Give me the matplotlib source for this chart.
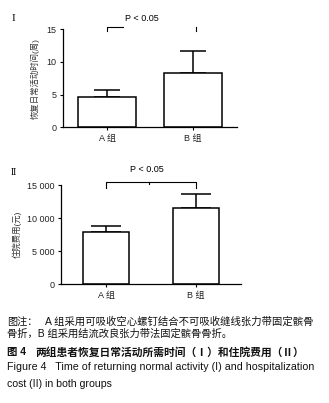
import matplotlib
matplotlib.use("Agg")
import matplotlib.pyplot as plt
import numpy as np

plt.rcParams['font.family'] = ['Liberation Sans', 'Noto Sans CJK SC', 'DejaVu Sans']

# ---- data ----
groups = ["A 组", "B 组"]
weeks_mean = [4.7, 8.3]
weeks_sd = [1.0, 3.4]
cost_mean = [7900, 11500]
cost_sd = [1000, 2200]
weeks_ticks = [0, 5, 10, 15]
weeks_ticklabels = ["0", "5", "10", "15"]
cost_ticks = [0, 5000, 10000, 15000]
cost_ticklabels = ["0", "5 000", "10 000", "15 000"]
p_text = "P < 0.05"

W, H = 329, 403
fig = plt.figure(figsize=(W / 100, H / 100), dpi=100)

def px_axes(left, right, top, bottom):
    return fig.add_axes([left / W, 1 - bottom / H, (right - left) / W, (bottom - top) / H])

def style(ax, ticks, ticklabels, ymax, bar_w, capsize, means, sds, xlim):
    x = np.arange(len(groups))
    ax.bar(x, means, width=bar_w, color="white", edgecolor="black", linewidth=1.1, zorder=2)
    ax.errorbar(x, means, yerr=[np.zeros(len(sds)), sds], fmt="none", ecolor="black",
                elinewidth=1.1, capsize=capsize, capthick=1.1, zorder=1)
    ax.set_xlim(*xlim)
    ax.set_ylim(0, ymax)
    ax.set_yticks(ticks)
    ax.set_yticklabels(ticklabels, fontsize=6.5, color="#222")
    ax.set_xticks(x)
    ax.set_xticklabels(groups, fontsize=6.5, color="#222")
    for s in ["top", "right"]:
        ax.spines[s].set_visible(False)
    for s in ["left", "bottom"]:
        ax.spines[s].set_linewidth(0.9)
    ax.tick_params(axis="both", direction="out", length=2.5, width=0.8, pad=2)
    ax.set_facecolor("none")

# ---- Panel I ----
ax1 = px_axes(63, 237, 29.3, 127.3)
style(ax1, weeks_ticks, weeks_ticklabels, 15, 0.674, 9.5, weeks_mean, weeks_sd, (-0.512, 1.512))
ax1.set_ylabel("恢复日常活动时间(周)", fontsize=6.0, color="#333", labelpad=5)
ax1.plot([0, 0, 0.19], [14.8, 15.3, 15.3], color="black", lw=0.8, clip_on=False)
ax1.plot([1.03, 1.03], [14.8, 15.35], color="black", lw=0.8, clip_on=False)
ax1.text(0.41, 16.6, p_text, ha="center", va="center", fontsize=6.5, clip_on=False)
ax1.text(-0.287, 1.113, "I", transform=ax1.transAxes, family="Liberation Serif",
         fontsize=8, ha="center", va="center")

# ---- Panel II ----
ax2 = px_axes(61, 241, 185.3, 284.3)
style(ax2, cost_ticks, cost_ticklabels, 15000, 0.51, 10.5, cost_mean, cost_sd, (-0.5, 1.5))
ax2.set_ylabel("住院费用(元)", fontsize=6.0, color="#333", labelpad=4)
ax2.plot([0, 0, 1, 1], [14550, 15450, 15450, 14550], color="black", lw=0.8, clip_on=False)
ax2.plot([0.48, 0.48], [15450, 15150], color="black", lw=0.8, clip_on=False)
ax2.text(0.45, 17350, p_text, ha="center", va="center", fontsize=6.5, clip_on=False)
ax2.text(-0.26, 1.13, "II", transform=ax2.transAxes, family="Liberation Serif",
         fontsize=7, ha="center", va="center")

# ---- caption ----
cap_parts = [
    ("图注：", 7, 322, 7.3, "normal"),
    ("A 组采用可吸收空心螺钉结合不可吸收缝线张力带固定髌骨", 45, 322, 7.45, "normal"),
    ("骨折，B 组采用结流改良张力带法固定髌骨骨折。", 7, 334, 7.4, "normal"),
    ("图 4", 7, 352, 7.5, "bold"),
    ("两组患者恢复日常活动所需时间（Ⅰ）和住院费用（Ⅱ）", 35, 352, 7.75, "bold"),
    ("Figure 4   Time of returning normal activity (I) and hospitalization", 7, 367, 7.7, "normal"),
    ("cost (II) in both groups", 7, 384, 7.6, "normal"),
]
for txt, x, y, fs, wt in cap_parts:
    fig.text(x / W, 1 - y / H, txt, ha="left", va="center", fontsize=fs,
             fontweight=wt, color="#111")

fig.savefig("out.png", dpi=100)
